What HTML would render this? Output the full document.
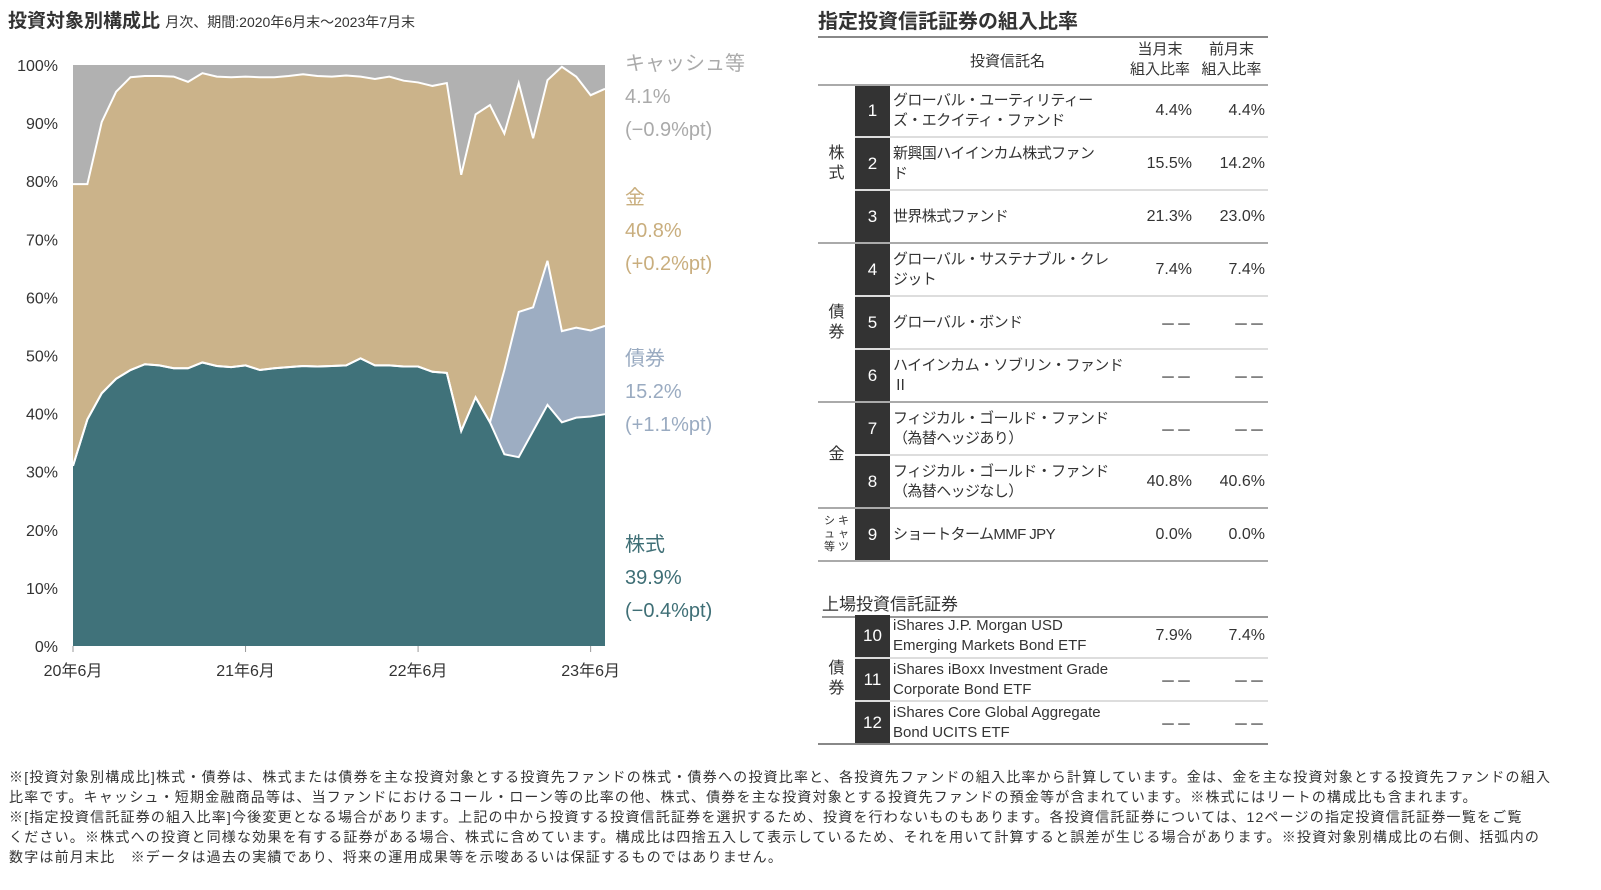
<!DOCTYPE html>
<html><head><meta charset="utf-8">
<style>
body{margin:0;width:1601px;height:890px;background:#fff;font-family:"Liberation Sans","Noto Sans CJK JP",sans-serif;color:#333;position:relative;overflow:hidden}
.abs{position:absolute;white-space:nowrap}
.lbl{position:absolute;left:625px;font-size:20px;line-height:33px}
table{border-collapse:collapse;table-layout:fixed}
.tb{position:absolute;left:818px;width:450px;font-size:15px}
.tb td{padding:0;vertical-align:middle}
.num{background:#333;color:#fff;text-align:center;font-size:17px}
.cat{text-align:center;font-size:16px;line-height:20px}
.nm{padding-left:3px!important;line-height:20px;letter-spacing:-0.6px;white-space:nowrap;overflow:visible}
.v1{text-align:right;padding-right:3px!important;font-size:16px}
.v2{text-align:right;padding-right:3px!important;font-size:16px}
.r td{border-top:2px solid #ddd}
.g td{border-top:2px solid #aaa}
</style></head><body>
<div class="abs" style="left:8px;top:6px;font-size:19px;font-weight:bold;color:#333">投資対象別構成比 <span style="font-size:14px;font-weight:normal">月次、期間:2020年6月末～2023年7月末</span></div>
<svg id="chart" width="620" height="700" style="position:absolute;left:0;top:0"></svg>
<div class="lbl" style="top:48px;color:#aaa">キャッシュ等<br>4.1%<br>(−0.9%pt)</div>
<div class="lbl" style="top:182px;color:#c9ae7e">金<br>40.8%<br>(+0.2%pt)</div>
<div class="lbl" style="top:343px;color:#9aabc1">債券<br>15.2%<br>(+1.1%pt)</div>
<div class="lbl" style="top:529px;color:#3f6f76">株式<br>39.9%<br>(−0.4%pt)</div>

<div class="abs" style="left:818px;top:5px;font-size:20px;font-weight:bold;color:#333;width:450px;border-bottom:2px solid #888;padding-bottom:2px">指定投資信託証券の組入比率</div>
<table class="tb" style="top:36px">
<colgroup><col style="width:37px"><col style="width:35px"><col style="width:235px"><col style="width:70px"><col style="width:73px"></colgroup>
<tr style="height:49px"><td></td><td></td><td style="text-align:center;font-size:15px">投資信託名</td><td style="text-align:center;font-size:15px;line-height:20px">当月末<br>組入比率</td><td style="text-align:center;font-size:15px;line-height:20px">前月末<br>組入比率</td></tr>
<tr class="g" style="height:52px"><td class="cat" rowspan="3">株<br>式</td><td class="num">1</td><td class="nm">グローバル・ユーティリティー<br>ズ・エクイティ・ファンド</td><td class="v1">4.4%</td><td class="v2">4.4%</td></tr>
<tr class="r" style="height:53px"><td class="num">2</td><td class="nm">新興国ハイインカム株式ファン<br>ド</td><td class="v1">15.5%</td><td class="v2">14.2%</td></tr>
<tr class="r" style="height:53px"><td class="num">3</td><td class="nm">世界株式ファンド</td><td class="v1">21.3%</td><td class="v2">23.0%</td></tr>
<tr class="g" style="height:53px"><td class="cat" rowspan="3">債<br>券</td><td class="num">4</td><td class="nm">グローバル・サステナブル・クレ<br>ジット</td><td class="v1">7.4%</td><td class="v2">7.4%</td></tr>
<tr class="r" style="height:53px"><td class="num">5</td><td class="nm">グローバル・ボンド</td><td class="v1">－－</td><td class="v2">－－</td></tr>
<tr class="r" style="height:53px"><td class="num">6</td><td class="nm">ハイインカム・ソブリン・ファンド<br>Ⅱ</td><td class="v1">－－</td><td class="v2">－－</td></tr>
<tr class="g" style="height:53px"><td class="cat" rowspan="2">金</td><td class="num">7</td><td class="nm">フィジカル・ゴールド・ファンド<br>（為替ヘッジあり）</td><td class="v1">－－</td><td class="v2">－－</td></tr>
<tr class="r" style="height:53px"><td class="num">8</td><td class="nm">フィジカル・ゴールド・ファンド<br>（為替ヘッジなし）</td><td class="v1">40.8%</td><td class="v2">40.6%</td></tr>
<tr class="g" style="height:53px;border-bottom:2px solid #aaa"><td class="cat" style="font-size:11px;line-height:13px">シ キ<br>ュ ャ<br>等 ツ</td><td class="num">9</td><td class="nm">ショートタームMMF JPY</td><td class="v1">0.0%</td><td class="v2">0.0%</td></tr>
</table>
<div class="abs" style="left:822px;top:590px;font-size:17px;width:446px;border-bottom:2px solid #999;padding-bottom:1px">上場投資信託証券</div>
<table class="tb" style="top:615px">
<colgroup><col style="width:37px"><col style="width:35px"><col style="width:235px"><col style="width:70px"><col style="width:73px"></colgroup>
<tr style="height:43px"><td class="cat" rowspan="3">債<br>券</td><td class="num">10</td><td class="nm" style="letter-spacing:0">iShares J.P. Morgan USD<br>Emerging Markets Bond ETF</td><td class="v1">7.9%</td><td class="v2">7.4%</td></tr>
<tr class="r" style="height:43px"><td class="num">11</td><td class="nm" style="letter-spacing:0">iShares iBoxx Investment Grade<br>Corporate Bond ETF</td><td class="v1">－－</td><td class="v2">－－</td></tr>
<tr class="r" style="height:43px;border-bottom:2px solid #888"><td class="num">12</td><td class="nm" style="letter-spacing:0">iShares Core Global Aggregate<br>Bond UCITS ETF</td><td class="v1">－－</td><td class="v2">－－</td></tr>
</table>
<div class="abs" style="left:9px;top:767px;font-size:14px;letter-spacing:1.2px;line-height:20px;color:#333">※[投資対象別構成比]株式・債券は、株式または債券を主な投資対象とする投資先ファンドの株式・債券への投資比率と、各投資先ファンドの組入比率から計算しています。金は、金を主な投資対象とする投資先ファンドの組入<br>比率です。キャッシュ・短期金融商品等は、当ファンドにおけるコール・ローン等の比率の他、株式、債券を主な投資対象とする投資先ファンドの預金等が含まれています。※株式にはリートの構成比も含まれます。<br>※[指定投資信託証券の組入比率]今後変更となる場合があります。上記の中から投資する投資信託証券を選択するため、投資を行わないものもあります。各投資信託証券については、12ページの指定投資信託証券一覧をご覧<br>ください。※株式への投資と同様な効果を有する証券がある場合、株式に含めています。構成比は四捨五入して表示しているため、それを用いて計算すると誤差が生じる場合があります。※投資対象別構成比の右側、括弧内の<br>数字は前月末比　※データは過去の実績であり、将来の運用成果等を示唆あるいは保証するものではありません。</div>
<script>
const stock=[31,39,43.5,46,47.5,48.5,48.3,47.8,47.8,48.8,48.2,48,48.3,47.5,47.8,48,48.2,48.1,48.2,48.3,49.5,48.3,48.3,48.1,48.1,47.2,47,37,42.8,38.5,33,32.5,37,41.5,38.5,39.3,39.5,39.9];
const bond=[0,0,0,0,0,0,0,0,0,0,0,0,0,0,0,0,0,0,0,0,0,0,0,0,0,0,0,0,0,0,14.5,25,21.3,24.8,15.7,15.5,14.8,15.2];
const gold=[48.5,40.5,46.7,49.4,50.4,49.6,49.8,50.2,49.3,49.8,49.8,49.9,49.7,50.4,50.1,50.1,50.2,50,49.8,49.9,48.5,49.3,49.7,49.2,48.9,49.2,49.9,44.1,48.7,54.6,40.7,39.4,29.1,31.1,45.5,43.2,40.5,40.8];
const cash=[20.5,20.5,9.8,4.6,2.1,1.9,1.9,2,2.9,1.4,2,2.1,2,2.1,2.1,1.9,1.6,1.9,2,1.8,2,2.4,2,2.7,3,3.6,3.1,18.9,8.5,6.9,11.8,3.1,12.6,2.6,0.3,2,5.2,4.1];
const yTicks=["0%","10%","20%","30%","40%","50%","60%","70%","80%","90%","100%"];
const xTicks=[{i:0,t:"20年6月"},{i:12,t:"21年6月"},{i:24,t:"22年6月"},{i:36,t:"23年6月"}];
const NS="http://www.w3.org/2000/svg";
const svg=document.getElementById('chart');
const X0=73,X1=605,Y0=646,Y1=65;
const n=stock.length;
const xs=i=>X0+(X1-X0)*i/(n-1);
const ys=v=>Y0-(Y0-Y1)*v/100;
function mk(t,a){const e=document.createElementNS(NS,t);for(const k in a)e.setAttribute(k,a[k]);svg.appendChild(e);return e;}
const series=[stock,bond,gold,cash];
const colors=["#40727a","#9dadc2","#cbb38a","#b1b1b1"];
const names=["area-stock","area-bond","area-gold","area-cash"];
let base=new Array(n).fill(0);
const tops=[];
series.forEach((s,k)=>{
  const top=base.map((b,i)=>b+s[i]);
  let d="M"+xs(0)+","+ys(top[0]);
  for(let i=1;i<n;i++)d+="L"+xs(i)+","+ys(top[i]);
  for(let i=n-1;i>=0;i--)d+="L"+xs(i)+","+ys(base[i]);
  const p=mk('path',{d:d+"Z",fill:colors[k]});
  
  
  tops.push(top);base=top;
});
tops.slice(0,3).forEach((top,k)=>{
  let d="M"+xs(0)+","+ys(top[0]);
  for(let i=1;i<n;i++)d+="L"+xs(i)+","+ys(top[i]);
  const l=mk('path',{d:d,fill:"none",stroke:"#fff","stroke-width":2});
  
  
});
yTicks.forEach((t,i)=>{
  const e=mk('text',{x:58,y:ys(i*10)+6,"text-anchor":"end","font-size":16,fill:"#333","font-family":"Liberation Sans, Noto Sans CJK JP, sans-serif"});
  e.textContent=t;
  
  
});
xTicks.forEach(o=>{
  const e=mk('text',{x:xs(o.i),y:676,"text-anchor":"middle","font-size":16,fill:"#333","font-family":"Liberation Sans, Noto Sans CJK JP, sans-serif"});
  e.textContent=o.t;
  
  
  const tk=mk('line',{x1:xs(o.i),x2:xs(o.i),y1:Y0,y2:Y0+6,stroke:"#999"});
  
  
});
</script>
</body></html>
